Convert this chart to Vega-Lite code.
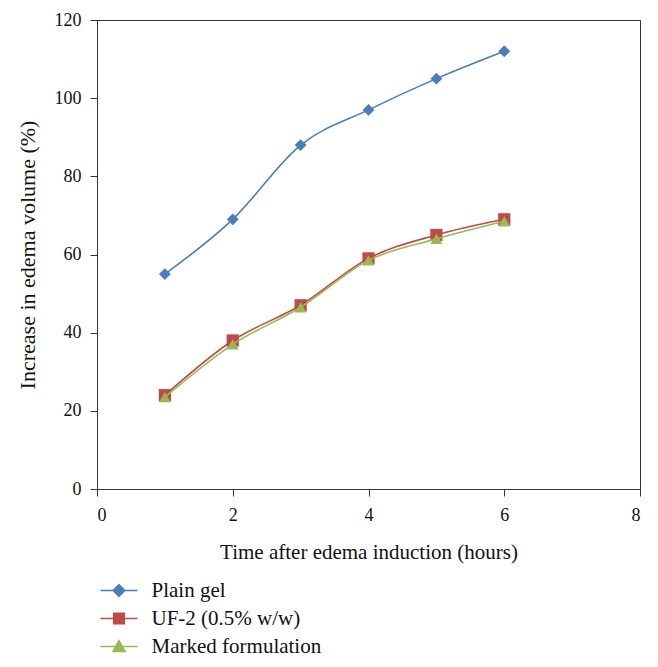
{
  "$schema": "https://vega.github.io/schema/vega-lite/v6.json",
  "width": 543,
  "height": 469,
  "autosize": {"type": "none"},
  "padding": {"left": 97, "top": 20, "right": 18, "bottom": 178},
  "background": "white",
  "config": {
    "font": "Liberation Serif",
    "view": {"stroke": "#333333", "strokeWidth": 1},
    "axis": {
      "labelFont": "Liberation Serif",
      "titleFont": "Liberation Serif",
      "labelFontSize": 18,
      "titleFontSize": 21,
      "labelColor": "#111111",
      "titleColor": "#111111",
      "titleFontWeight": "normal",
      "grid": false,
      "domainColor": "#333333",
      "tickColor": "#333333",
      "tickSize": 7
    },
    "legend": {
      "labelFont": "Liberation Serif",
      "labelFontSize": 21,
      "labelColor": "#111111",
      "labelLimit": 400,
      "padding": 0
    }
  },
  "data": {
    "values": [
      {"t": 1, "v": 55, "s": "Plain gel"},
      {"t": 2, "v": 69, "s": "Plain gel"},
      {"t": 3, "v": 88, "s": "Plain gel"},
      {"t": 4, "v": 97, "s": "Plain gel"},
      {"t": 5, "v": 105, "s": "Plain gel"},
      {"t": 6, "v": 112, "s": "Plain gel"},
      {"t": 1, "v": 24, "s": "UF-2 (0.5% w/w)"},
      {"t": 2, "v": 38, "s": "UF-2 (0.5% w/w)"},
      {"t": 3, "v": 47, "s": "UF-2 (0.5% w/w)"},
      {"t": 4, "v": 59, "s": "UF-2 (0.5% w/w)"},
      {"t": 5, "v": 65, "s": "UF-2 (0.5% w/w)"},
      {"t": 6, "v": 69, "s": "UF-2 (0.5% w/w)"},
      {"t": 1, "v": 23.5, "s": "Marked formulation"},
      {"t": 2, "v": 37, "s": "Marked formulation"},
      {"t": 3, "v": 46.5, "s": "Marked formulation"},
      {"t": 4, "v": 58.5, "s": "Marked formulation"},
      {"t": 5, "v": 64, "s": "Marked formulation"},
      {"t": 6, "v": 68.5, "s": "Marked formulation"}
    ]
  },
  "encoding": {
    "x": {
      "field": "t", "type": "quantitative",
      "scale": {"domain": [0, 8], "nice": false},
      "axis": {"values": [0, 2, 4, 6, 8], "title": "Time after edema induction (hours)", "titlePadding": 17, "labelPadding": 10}
    },
    "y": {
      "field": "v", "type": "quantitative",
      "scale": {"domain": [0, 120], "nice": false},
      "axis": {"values": [0, 20, 40, 60, 80, 100, 120], "title": "Increase in edema volume (%)", "titleFontSize": 22, "titlePadding": 15, "labelPadding": 9}
    }
  },
  "layer": [
    {
      "transform": [{"filter": "datum.s === 'Plain gel'"}],
      "mark": {"type": "line", "interpolate": "monotone", "strokeWidth": 1.6, "color": "#4a7ebb",
        "point": {"filled": true, "shape": "diamond", "size": 140, "color": "#4a7ebb", "opacity": 1}}
    },
    {
      "transform": [{"filter": "datum.s === 'UF-2 (0.5% w/w)'"}],
      "mark": {"type": "line", "interpolate": "monotone", "strokeWidth": 1.6, "color": "#be4b48",
        "point": {"filled": true, "shape": "square", "size": 150, "color": "#be4b48", "opacity": 1}}
    },
    {
      "transform": [{"filter": "datum.s === 'Marked formulation'"}],
      "mark": {"type": "line", "interpolate": "monotone", "strokeWidth": 1.6, "color": "#98b954",
        "point": {"filled": true, "shape": "triangle-up", "size": 140, "color": "#98b954", "opacity": 1}}
    },
    {
      "transform": [{"filter": "datum.t > 100"}],
      "mark": {"type": "point", "filled": true, "opacity": 1, "size": 100, "strokeWidth": 1.6},
      "encoding": {
        "fill": {
          "field": "s", "type": "nominal",
          "scale": {"domain": ["Plain gel", "UF-2 (0.5% w/w)", "Marked formulation"], "range": ["#4a7ebb", "#be4b48", "#98b954"]},
          "legend": {"title": null, "orient": "none", "legendX": 11.5, "legendY": 560, "symbolSize": 100, "rowPadding": 6, "labelOffset": 22, "labelLimit": 400, "symbolStrokeWidth": 1.6}
        },
        "stroke": {
          "field": "s", "type": "nominal",
          "scale": {"domain": ["Plain gel", "UF-2 (0.5% w/w)", "Marked formulation"], "range": ["#4a7ebb", "#be4b48", "#98b954"]},
          "legend": {"title": null, "orient": "none", "legendX": 11.5, "legendY": 560, "symbolSize": 100, "rowPadding": 6, "labelOffset": 22, "labelLimit": 400, "symbolStrokeWidth": 1.6}
        },
        "shape": {
          "field": "s", "type": "nominal",
          "scale": {"domain": ["Plain gel", "UF-2 (0.5% w/w)", "Marked formulation"], "range": ["M-3.7,0H3.7M0,-1.15L1.15,0L0,1.15L-1.15,0Z", "M-3.7,0H3.7M-1.05,-1.05H1.05V1.05H-1.05Z", "M-3.7,0H3.7M0,-1.15L1.2,1H-1.2Z"]},
          "legend": {"title": null, "orient": "none", "legendX": 11.5, "legendY": 560, "symbolSize": 100, "rowPadding": 6, "labelOffset": 22, "labelLimit": 400, "symbolStrokeWidth": 1.6}
        }
      }
    }
  ]
}
